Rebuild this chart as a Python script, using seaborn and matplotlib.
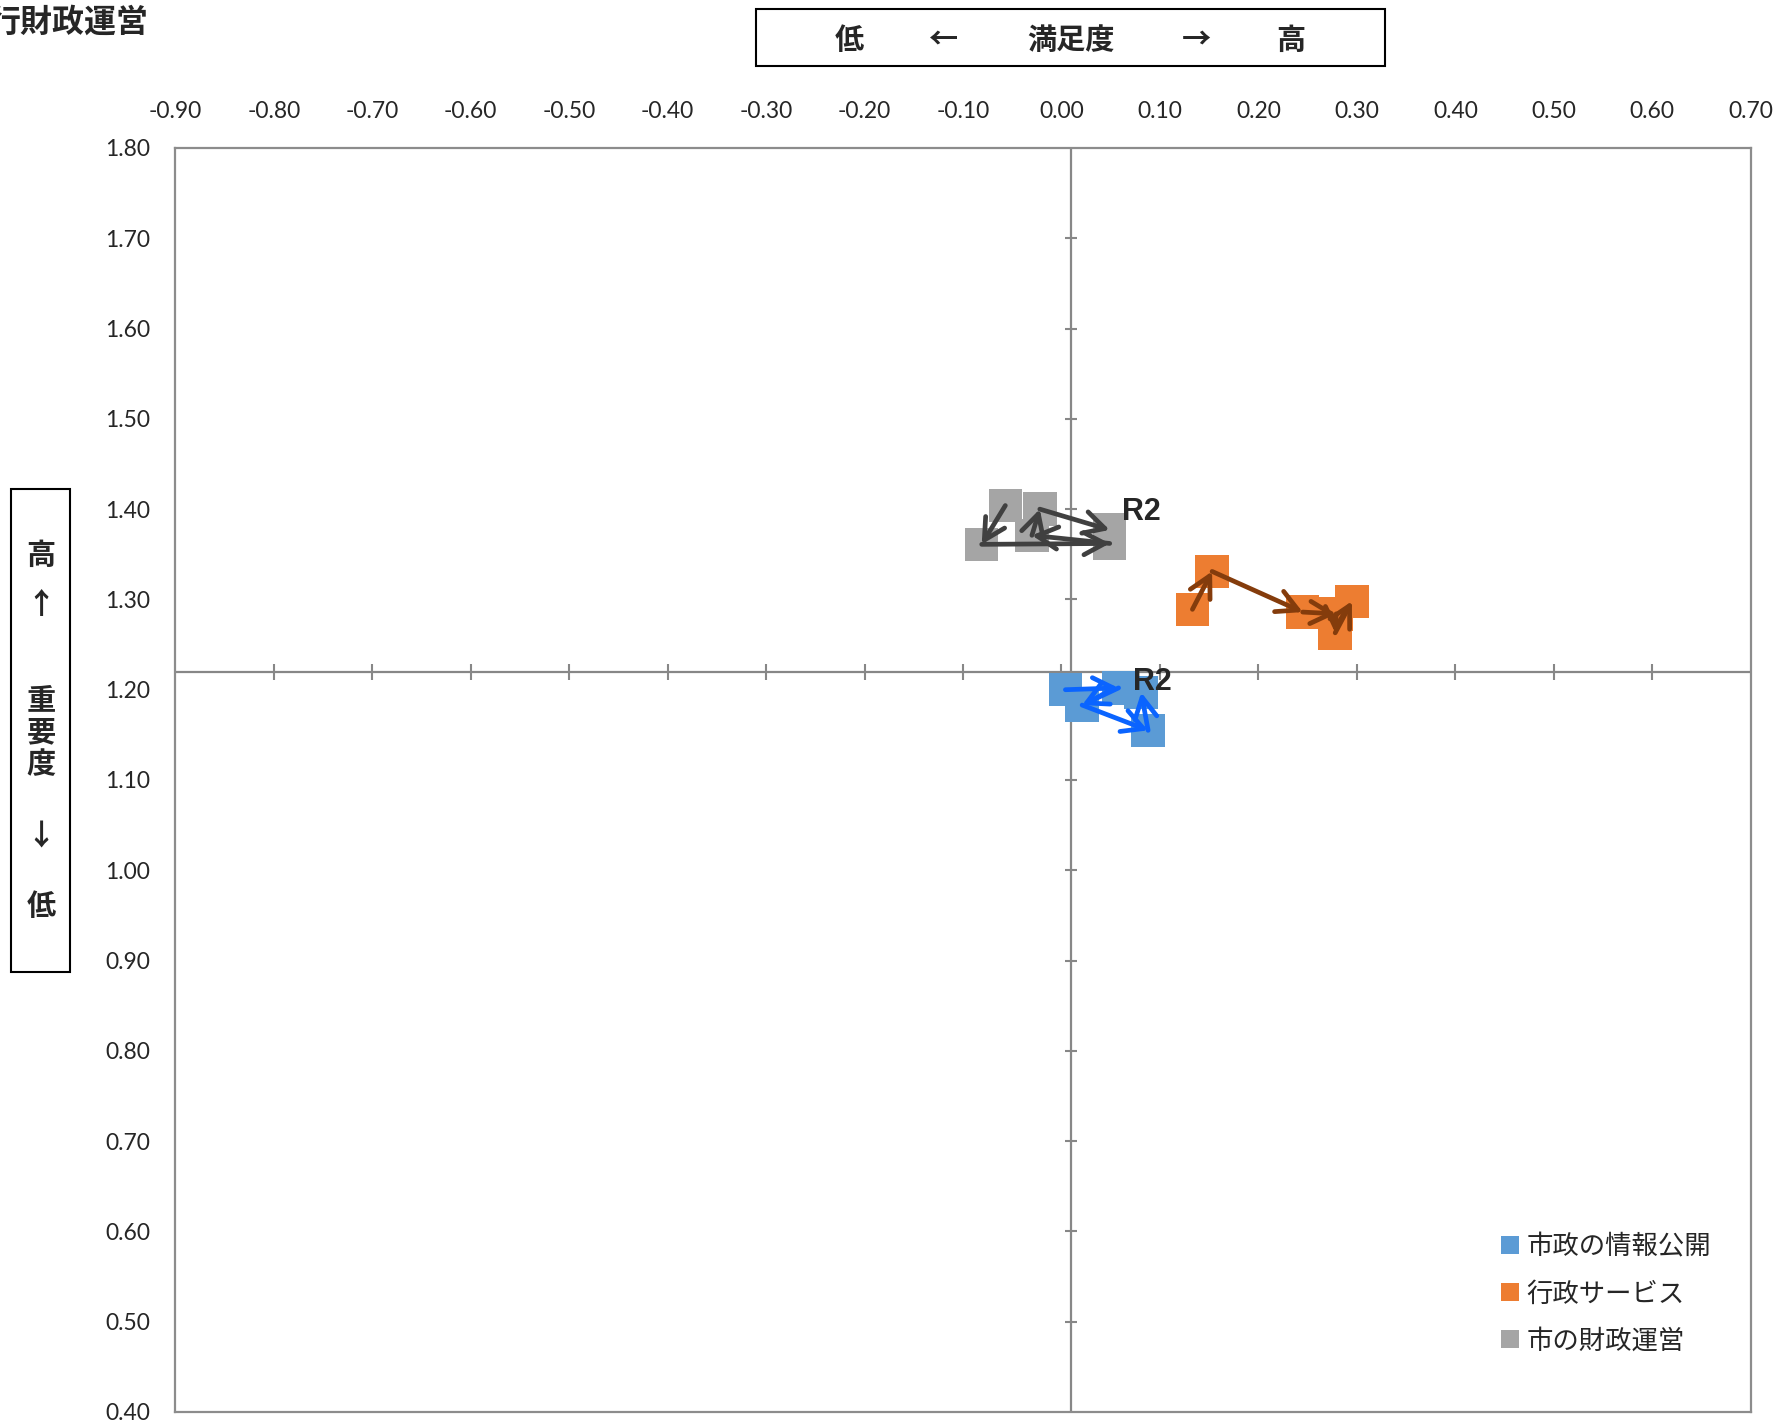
#!/usr/bin/env python3
"""Importance / satisfaction portfolio chart (3 policy areas, trend arrows)."""

import matplotlib
matplotlib.use('Agg')
import matplotlib.pyplot as plt
from matplotlib.lines import Line2D
import pandas as pd
import seaborn as sns

# ── Data ─────────────────────────────────────────────────────────────────────
SERIES = ['市政の情報公開', '行政サービス', '市の財政運営']
COLORS = ['#5B9BD5', '#ED7D31', '#A5A5A5']
ARROW_COLORS = ['#0A64FF', '#843C0C', '#404040']

# points in time order (last one is R2)
INFO_X = [0.004, 0.058, 0.021, 0.088, 0.081]
INFO_Y = [1.200, 1.202, 1.183, 1.155, 1.197]

SERV_X = [0.133, 0.153, 0.245, 0.279, 0.278, 0.295]
SERV_Y = [1.289, 1.331, 1.286, 1.284, 1.263, 1.298]

FIN_X = [-0.057, -0.081, 0.049, -0.030, -0.022, 0.049]
FIN_Y = [1.404, 1.361, 1.362, 1.371, 1.400, 1.377]

LAST_LABEL = 'R2'
LABELLED = [True, False, True]

X_CROSS = 0.01   # satisfaction average (vertical axis position)
Y_CROSS = 1.22   # importance average (horizontal axis position)

XTICKS = [-0.9, -0.8, -0.7, -0.6, -0.5, -0.4, -0.3, -0.2, -0.1,
          0.0, 0.1, 0.2, 0.3, 0.4, 0.5, 0.6, 0.7]
YTICKS = [0.4, 0.5, 0.6, 0.7, 0.8, 0.9, 1.0, 1.1, 1.2, 1.3,
          1.4, 1.5, 1.6, 1.7, 1.8]

CJK = ['Noto Sans CJK JP', 'DejaVu Sans']
NUM = ['Lato', 'DejaVu Sans']

W, H = 1783, 1426


def main():
    sns.set_style('white')
    plt.rcParams['font.family'] = CJK

    xs = [INFO_X, SERV_X, FIN_X]
    ys = [INFO_Y, SERV_Y, FIN_Y]
    rows = []
    for name, sx, sy in zip(SERIES, xs, ys):
        for i, (x, y) in enumerate(zip(sx, sy)):
            rows.append({'series': name, 'order': i, 'x': x, 'y': y})
    df = pd.DataFrame(rows)

    fig = plt.figure(figsize=(W / 100, H / 100), dpi=100)
    ax = fig.add_axes([175.3 / W, 1 - 1412 / H,
                       (1750.7 - 175.3) / W, (1412 - 148) / H])

    # quadrant axes through the averages
    ax.axhline(Y_CROSS, color='#878787', lw=1.6, zorder=1)
    ax.axvline(X_CROSS, color='#878787', lw=1.6, zorder=1)
    ax.plot(XTICKS[1:-1], [Y_CROSS] * (len(XTICKS) - 2), ls='none',
            marker='|', markersize=12, mew=1.5, color='#878787', zorder=1)
    ax.plot([X_CROSS] * (len(YTICKS) - 2), YTICKS[1:-1], ls='none',
            marker='_', markersize=9, mew=1.5, color='#878787', zorder=1)

    sns.scatterplot(data=df, x='x', y='y', hue='series', hue_order=SERIES,
                    palette=COLORS, marker='s', s=580, linewidth=0,
                    legend=False, ax=ax, zorder=2)

    # trend arrows, one per step between consecutive periods
    for k, (sx, sy) in enumerate(zip(xs, ys)):
        for i in range(len(sx) - 1):
            ax.annotate('', xy=(sx[i + 1], sy[i + 1]), xytext=(sx[i], sy[i]),
                        arrowprops=dict(arrowstyle='->,head_length=0.75,head_width=0.4',
                                        lw=3.4, color=ARROW_COLORS[k],
                                        shrinkA=0, shrinkB=0, mutation_scale=20),
                        zorder=3)
    # last-period labels
    offsets = {0: (-8, 10), 2: (12, 18)}
    for k, (sx, sy) in enumerate(zip(xs, ys)):
        if LABELLED[k]:
            ax.annotate(LAST_LABEL, xy=(sx[-1], sy[-1]), xytext=offsets[k],
                        textcoords='offset pixels', ha='left', va='center',
                        fontsize=22, fontweight='bold',
                        family=['Liberation Sans', 'DejaVu Sans'], zorder=4)

    ax.set_xlim(XTICKS[0], XTICKS[-1])
    ax.set_ylim(YTICKS[0], YTICKS[-1])
    ax.xaxis.tick_top()
    ax.set_xticks(XTICKS)
    ax.set_xticklabels([f'{v:.2f}' for v in XTICKS], family=NUM, fontsize=16.5)
    ax.set_yticks(YTICKS)
    ax.set_yticklabels([f'{v:.2f}' for v in YTICKS], family=NUM, fontsize=16.5)
    ax.tick_params(axis='x', length=0, pad=19)
    ax.tick_params(axis='y', length=0, pad=18)
    ax.set_xlabel('')
    ax.set_ylabel('')
    for sp in ax.spines.values():
        sp.set_color('#8c8c8c')
        sp.set_linewidth(1.6)

    # legend
    handles = [Line2D([], [], ls='none', marker='s', markersize=13,
                      color=c, mew=0) for c in COLORS]
    ax.legend(handles, SERIES, loc='center left', frameon=False,
              bbox_to_anchor=(1492 / W, 1 - 1294 / H),
              bbox_transform=fig.transFigure, fontsize=19,
              handlelength=0.6, handletextpad=0.3, labelspacing=0.75,
              borderaxespad=0)

    # title fragment top-left (clipped by the canvas as in the source)
    fig.text(148 / W, 1 - 23 / H, '行財政運営', ha='right', va='center',
             fontsize=23, fontweight='bold')

    # satisfaction header box
    fig.patches.append(plt.Rectangle((756 / W, 1 - 66 / H), (1385 - 756) / W,
                                     57 / H, transform=fig.transFigure,
                                     fill=False, ec='black', lw=1.5))
    for txt, px in [('低', 849), ('←', 944), ('満足度', 1071), ('→', 1196), ('高', 1291)]:
        fig.text(px / W, 1 - 40 / H, txt, ha='center', va='center',
                 fontsize=21, fontweight='bold')

    # importance side box
    fig.patches.append(plt.Rectangle((11 / W, 1 - 972 / H), 59 / W,
                                     (972 - 489) / H, transform=fig.transFigure,
                                     fill=False, ec='black', lw=1.5))
    for txt, py in [('高', 555), ('↑', 605), ('重', 700), ('要', 732),
                    ('度', 764), ('↓', 836), ('低', 906)]:
        fig.text(41 / W, 1 - py / H, txt, ha='center', va='center',
                 fontsize=21, fontweight='bold')

    fig.savefig('out.png', dpi=100)
    plt.close(fig)


if __name__ == '__main__':
    main()
